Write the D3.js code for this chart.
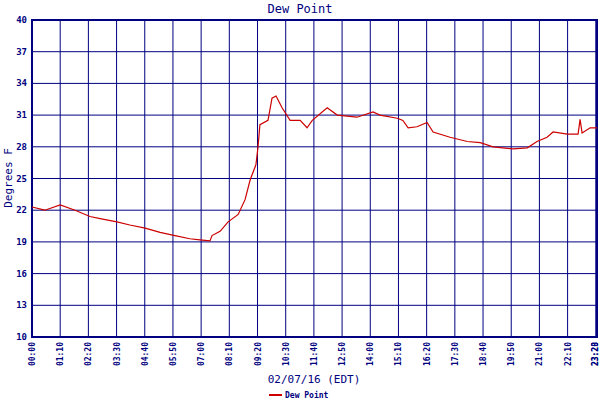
<!DOCTYPE html><html><head><meta charset="utf-8"><script src="https://cdn.jsdelivr.net/npm/d3@7"></script>
<style>body{margin:0;background:#fff}text{font-family:"DejaVu Sans Mono",monospace;fill:#000080}</style></head><body>
<svg id="c" width="600" height="400"></svg>
<script>
const minutes=[0,32,70,107,144,169,211,243,281,318,355,392,417,442,447,467,487,512,529,542,556,561,566,586,596,606,621,641,666,683,696,733,758,807,847,864,907,921,934,956,981,996,1038,1081,1113,1145,1195,1230,1254,1279,1294,1329,1356,1361,1366,1386,1403];
const dewPoint=[22.3,22.0,22.5,22.0,21.4,21.2,20.9,20.6,20.3,19.9,19.6,19.3,19.2,19.1,19.6,20.0,20.9,21.6,23.0,24.9,26.3,27.9,30.1,30.5,32.6,32.8,31.7,30.5,30.5,29.8,30.5,31.7,31.0,30.8,31.3,31.0,30.7,30.5,29.8,29.9,30.3,29.4,28.9,28.5,28.4,28.0,27.8,27.9,28.5,28.9,29.4,29.2,29.2,30.6,29.3,29.8,29.8];
const xTickMinutes=[0,70,140,210,280,350,420,490,560,630,700,770,840,910,980,1050,1120,1190,1260,1330,1400,1403];
const xTickLabels=["00:00","01:10","02:20","03:30","04:40","05:50","07:00","08:10","09:20","10:30","11:40","12:50","14:00","15:10","16:20","17:30","18:40","19:50","21:00","22:10","23:20","23:23"];
const yTicks=[10,13,16,19,22,25,28,31,34,37,40];
const svg=d3.select("#c");
const L=32,R=597,T=20,B=337;
const x=d3.scaleLinear().domain([0,1403]).range([L,R]);
const y=d3.scaleLinear().domain([10,40]).range([B,T]);
const g=svg.append("g");
g.selectAll(".v").data(xTickMinutes).join("line").attr("x1",d=>x(d)).attr("x2",d=>x(d)).attr("y1",T).attr("y2",B).attr("stroke","#000080").attr("stroke-width",1);
g.selectAll(".h").data(yTicks).join("line").attr("x1",L).attr("x2",R).attr("y1",d=>y(d)).attr("y2",d=>y(d)).attr("stroke","#000080").attr("stroke-width",1);
g.append("rect").attr("x",L).attr("y",T).attr("width",R-L).attr("height",B-T).attr("fill","none").attr("stroke","#000080").attr("stroke-width",2);
g.selectAll(".yl").data(yTicks).join("text").attr("x",L-5).attr("y",d=>y(d)+3).attr("text-anchor","end").attr("font-size",9).attr("font-weight","bold").text(d=>d);
g.selectAll(".xl").data(xTickMinutes).join("text").attr("transform",(d,i)=>`translate(${Math.min(x(d)+3,598)},${B+5}) rotate(-90)`).attr("text-anchor","end").attr("font-size",8).attr("font-weight","bold").text((d,i)=>xTickLabels[i]);
const pts=minutes.map((m,i)=>[m,dewPoint[i]]);
svg.append("path").datum(pts).attr("d",d3.line().x(d=>x(d[0])).y(d=>y(d[1]))).attr("fill","none").attr("stroke","#cc0000").attr("stroke-width",1.2);
svg.append("text").attr("x",300).attr("y",13).attr("text-anchor","middle").attr("font-size",12).text("Dew Point");
svg.append("text").attr("transform","translate(12,178) rotate(-90)").attr("text-anchor","middle").attr("font-size",11).text("Degrees F");
svg.append("text").attr("x",314).attr("y",383).attr("text-anchor","middle").attr("font-size",11).text("02/07/16 (EDT)");
svg.append("line").attr("x1",269).attr("x2",282).attr("y1",395).attr("y2",395).attr("stroke","#cc0000").attr("stroke-width",2);
svg.append("text").attr("x",285).attr("y",398).attr("font-size",8).attr("font-weight","bold").text("Dew Point");
</script></body></html>
